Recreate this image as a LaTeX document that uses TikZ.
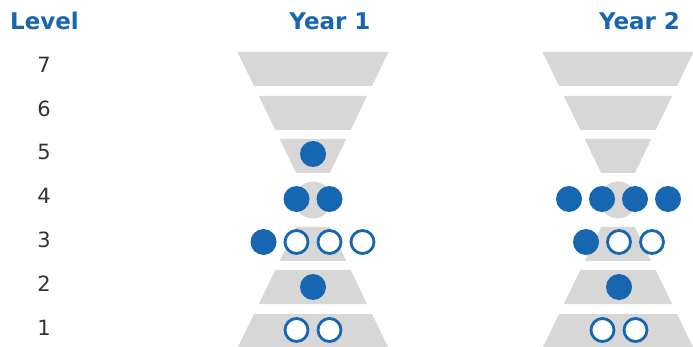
\documentclass[tikz,border=0pt]{standalone}
\usepackage{fontspec}
\setmainfont{DejaVu Sans}
\begin{document}
\definecolor{dotblue}{HTML}{1666B2}
\definecolor{slicegray}{HTML}{D7D7D7}
\definecolor{numgray}{HTML}{333333}
\begin{tikzpicture}[x=1pt,y=-1pt,
  header/.style={text=dotblue,font=\bfseries\fontsize{23}{27}\selectfont,anchor=base,inner sep=0pt},
  levelnum/.style={text=numgray,font=\fontsize{21}{25}\selectfont,anchor=base,inner sep=0pt},
  slice/.style={fill=slicegray},
  fulldot/.style={circle,fill=dotblue,minimum size=26pt,inner sep=0pt},
  opendot/.style={circle,draw=dotblue,fill=white,line width=2.8pt,minimum size=23pt,inner sep=0pt}]
\useasboundingbox (0,0) rectangle (693,347);

% headers
\node[header] (hlevel) at (44.5,29.5) {Level};
\node[header] (hy1) at (330,29.5) {Year 1};
\node[header] (hy2) at (639.5,29.5) {Year 2};

% level numbers
\foreach \lv/\yy in {7/69,6/113,5/156,4/200,3/244,2/287,1/331}
  \node[levelnum] (num\lv) at (44,\yy+4) {\lv};

% hourglass: cone sliced into bands, circle at the waist
\foreach \cx/\tag in {313/a,618/b}{
  \foreach \t/\b in {52/86,96/130,139/173}{
    \pgfmathsetmacro{\ht}{75.5-0.485*(\t-52)}
    \pgfmathsetmacro{\hb}{75.5-0.485*(\b-52)}
    \fill[slice] (\cx-\ht,\t) -- (\cx+\ht,\t) -- (\cx+\hb,\b) -- (\cx-\hb,\b) -- cycle;
    \fill[slice] (\cx-\ht,400-\t) -- (\cx+\ht,400-\t) -- (\cx+\hb,400-\b) -- (\cx-\hb,400-\b) -- cycle;
  }
  \fill[slice] (\cx,200) circle[radius=18.5];
}

% Year 1 dots
\node[fulldot] (a5) at (313,154) {};
\node[fulldot] (a4l) at (296.5,199) {};
\node[fulldot] (a4r) at (329.5,199) {};
\node[fulldot] (a3a) at (263.5,242) {};
\node[opendot] (a3b) at (296.5,242) {};
\node[opendot] (a3c) at (329.5,242) {};
\node[opendot] (a3d) at (362.5,242) {};
\node[fulldot] (a2) at (313,287) {};
\node[opendot] (a1l) at (296.5,330) {};
\node[opendot] (a1r) at (329.5,330) {};

% Year 2 dots
\node[fulldot] (b4a) at (569,199) {};
\node[fulldot] (b4b) at (602,199) {};
\node[fulldot] (b4c) at (635,199) {};
\node[fulldot] (b4d) at (668,199) {};
\node[fulldot] (b3a) at (586,242) {};
\node[opendot] (b3b) at (619,242) {};
\node[opendot] (b3c) at (652,242) {};
\node[fulldot] (b2) at (619,287) {};
\node[opendot] (b1l) at (602.5,330) {};
\node[opendot] (b1r) at (635.5,330) {};
\end{tikzpicture}
\end{document}
